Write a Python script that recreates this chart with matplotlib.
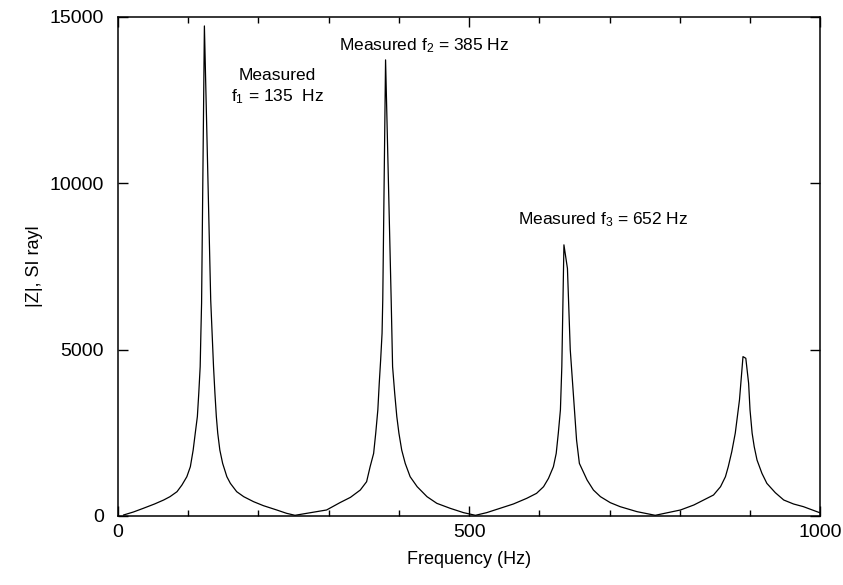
import numpy as np
import matplotlib
matplotlib.use("Agg")
import matplotlib.pyplot as plt
from matplotlib.ticker import MultipleLocator

plt.rcParams['font.family'] = ['Liberation Sans', 'DejaVu Sans']
plt.rcParams['mathtext.fontset'] = 'custom'
plt.rcParams['mathtext.rm'] = 'Liberation Sans'
plt.rcParams['mathtext.it'] = 'Liberation Sans'

# impedance magnitude (Hz, SI rayl)
freq = [8, 22, 36, 52, 65, 74, 84, 91, 98, 103, 107, 110, 113, 115, 117, 118, 119,
        123, 132, 134, 136, 138, 140, 142, 145, 149, 155, 160, 169, 179, 193, 207,
        226, 240, 252, 297, 316, 331, 345, 354, 359, 364, 367, 370, 372, 374, 376,
        377, 381, 389, 390, 391, 394, 397, 400, 404, 409, 416, 426, 440, 454, 473,
        492, 509, 525, 544, 563, 582, 596, 606, 613, 620, 624, 627, 630, 632, 635,
        640, 644, 649, 653, 657, 668, 677, 687, 701, 715, 739, 765, 801, 820, 834,
        848, 858, 865, 869, 874, 879, 882, 885, 890, 894, 898, 900, 903, 906, 910,
        917, 924, 936, 948, 962, 976, 999]
z_mag = [30, 120, 230, 360, 480, 580, 730, 930, 1180, 1480, 1980, 2490, 2990, 3690,
         4490, 5490, 6400, 14730, 6490, 5490, 4490, 3690, 2990, 2490, 1980, 1580,
         1180, 980, 730, 580, 430, 310, 180, 80, 20, 180, 400, 560, 780, 1030, 1480,
         1880, 2490, 3190, 3990, 4690, 5490, 6490, 13710, 6490, 5490, 4490, 3690,
         2990, 2490, 1980, 1580, 1180, 880, 580, 380, 230, 100, 20, 100, 230, 360,
         530, 680, 880, 1130, 1480, 1880, 2490, 3190, 4490, 8150, 7440, 5000, 3490,
         2280, 1580, 1080, 780, 580, 400, 280, 130, 20, 180, 330, 480, 630, 880,
         1180, 1480, 1930, 2490, 2990, 3490, 4790, 4740, 3990, 3190, 2490, 2080,
         1680, 1280, 980, 700, 480, 360, 280, 100]

labels = ["Measured\nf$_1$ = 135  Hz", "Measured f$_2$ = 385 Hz", "Measured f$_3$ = 652 Hz"]
label_pos = [(227, 12900), (436, 14130), (691, 8900)]

fig = plt.figure(figsize=(8.43, 5.85), dpi=100)
ax = fig.add_axes([0.140, 0.118, 0.833, 0.853])

ax.plot(freq, z_mag, color='black', lw=0.9)

for txt, (x, y) in zip(labels, label_pos):
    ax.text(x, y, txt, fontsize=12.5, ha='center', va='center', linespacing=1.3)

ax.set_xlim(0, 1000)
ax.set_ylim(0, 15000)
ax.set_xticks([0, 500, 1000])
ax.xaxis.set_minor_locator(MultipleLocator(100))
ax.set_yticks([0, 5000, 10000, 15000])
ax.tick_params(which='both', direction='in', top=True, right=True, labelsize=14)
ax.tick_params(which='major', length=7, width=1)
ax.tick_params(which='minor', length=4, width=1)
ax.tick_params(axis='x', pad=6)
ax.tick_params(axis='y', pad=10)
for s in ax.spines.values():
    s.set_linewidth(1.1)

ax.set_xlabel("Frequency (Hz)", fontsize=13, labelpad=7)
ax.set_ylabel("|Z|, SI rayl", fontsize=13, labelpad=5)

fig.savefig("out.png", dpi=100)
